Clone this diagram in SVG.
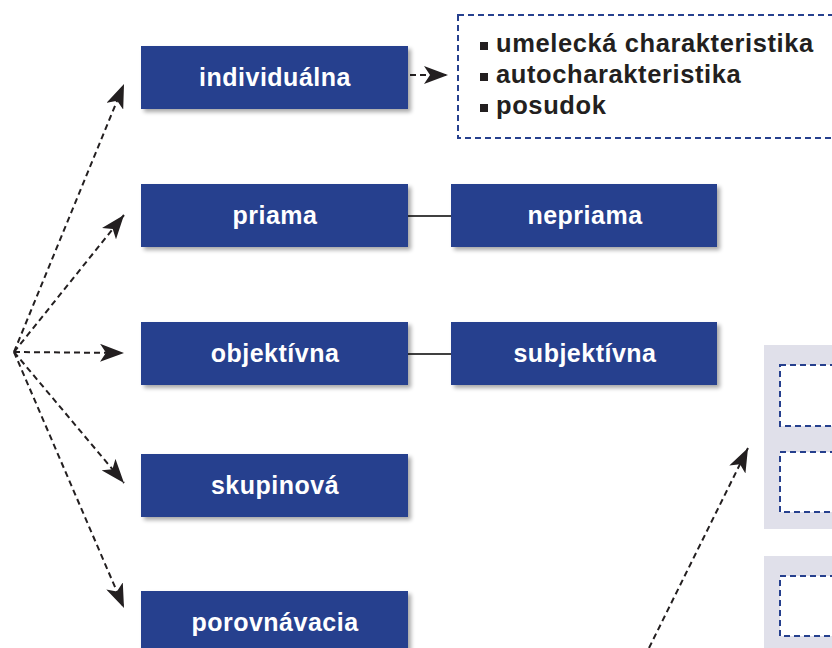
<svg xmlns="http://www.w3.org/2000/svg" width="832" height="648" viewBox="0 0 832 648">
<defs>
<filter id="sh" x="-5%" y="-10%" width="115%" height="130%">
<feGaussianBlur in="SourceAlpha" stdDeviation="2"/>
<feOffset dx="3" dy="3"/>
<feComponentTransfer><feFuncA type="linear" slope="0.35"/></feComponentTransfer>
<feMerge><feMergeNode/><feMergeNode in="SourceGraphic"/></feMerge>
</filter>
<marker id="ah" viewBox="0 0 24 18" refX="24" refY="9" markerWidth="24" markerHeight="18" markerUnits="userSpaceOnUse" orient="auto">
<path d="M0,0 L24,9 L0,18 L6,9 Z" fill="#231f20"/>
</marker>
</defs>
<style>
.box{fill:#26408e;filter:url(#sh)}
.lbl{font-family:"Liberation Sans",Arial,sans-serif;font-weight:bold;font-size:25px;letter-spacing:0.5px;fill:#fff;text-anchor:middle}
.lst{font-family:"Liberation Sans",Arial,sans-serif;font-weight:bold;font-size:25.5px;letter-spacing:0.6px;fill:#231f20}
.dc{fill:none;stroke:#231f20;stroke-width:2;stroke-dasharray:6,4;marker-end:url(#ah)}
.sol{stroke:#000;stroke-width:1.3}
.dbox{fill:#fff;stroke:#26408e;stroke-width:2;stroke-dasharray:6,4}
.panel{fill:#e0e0ea}
</style>
<rect width="832" height="648" fill="#fff"/>
<g id="connectors">
<line class="dc" x1="14" y1="352" x2="124" y2="84"/>
<line class="dc" x1="14" y1="352" x2="124" y2="215"/>
<line class="dc" x1="14" y1="352" x2="124" y2="353"/>
<line class="dc" x1="14" y1="352" x2="124" y2="483"/>
<line class="dc" x1="14" y1="352" x2="124" y2="608"/>
<line class="dc" x1="410" y1="75" x2="448" y2="75"/>
<line class="dc" x1="649" y1="648" x2="748" y2="448"/>
<line class="sol" x1="408" y1="216" x2="451" y2="216"/>
<line class="sol" x1="408" y1="354" x2="451" y2="354"/>
</g>
<g id="individualna"><rect class="box" x="141" y="46" width="267" height="63"/><text class="lbl" x="275" y="86">individuálna</text></g>
<g id="priama"><rect class="box" x="141" y="184" width="267" height="63"/><text class="lbl" x="275" y="224">priama</text></g>
<g id="nepriama"><rect class="box" x="451" y="184" width="266" height="63"/><text class="lbl" x="585" y="224">nepriama</text></g>
<g id="objektivna"><rect class="box" x="141" y="322" width="267" height="63"/><text class="lbl" x="275" y="362">objektívna</text></g>
<g id="subjektivna"><rect class="box" x="451" y="322" width="266" height="63"/><text class="lbl" x="585" y="362">subjektívna</text></g>
<g id="skupinova"><rect class="box" x="141" y="454" width="267" height="63"/><text class="lbl" x="275" y="494">skupinová</text></g>
<g id="porovnavacia"><rect class="box" x="141" y="591" width="267" height="63"/><text class="lbl" x="275" y="631">porovnávacia</text></g>
<g id="list">
<rect x="458" y="15" width="390" height="123" fill="none" stroke="#26408e" stroke-width="2" stroke-dasharray="6,4"/>
<rect x="480" y="42" width="8" height="8" fill="#231f20"/>
<text class="lst" x="496" y="52">umelecká charakteristika</text>
<rect x="480" y="73" width="8" height="8" fill="#231f20"/>
<text class="lst" x="496" y="83">autocharakteristika</text>
<rect x="480" y="104" width="8" height="8" fill="#231f20"/>
<text class="lst" x="496" y="114">posudok</text>
</g>
<g id="panel1">
<rect class="panel" x="764" y="345" width="80" height="184"/>
<rect class="dbox" x="780" y="365" width="70" height="61"/>
<rect class="dbox" x="780" y="452" width="70" height="60"/>
</g>
<g id="panel2">
<rect class="panel" x="764" y="556" width="80" height="100"/>
<rect class="dbox" x="780" y="576" width="70" height="60"/>
</g>
</svg>
